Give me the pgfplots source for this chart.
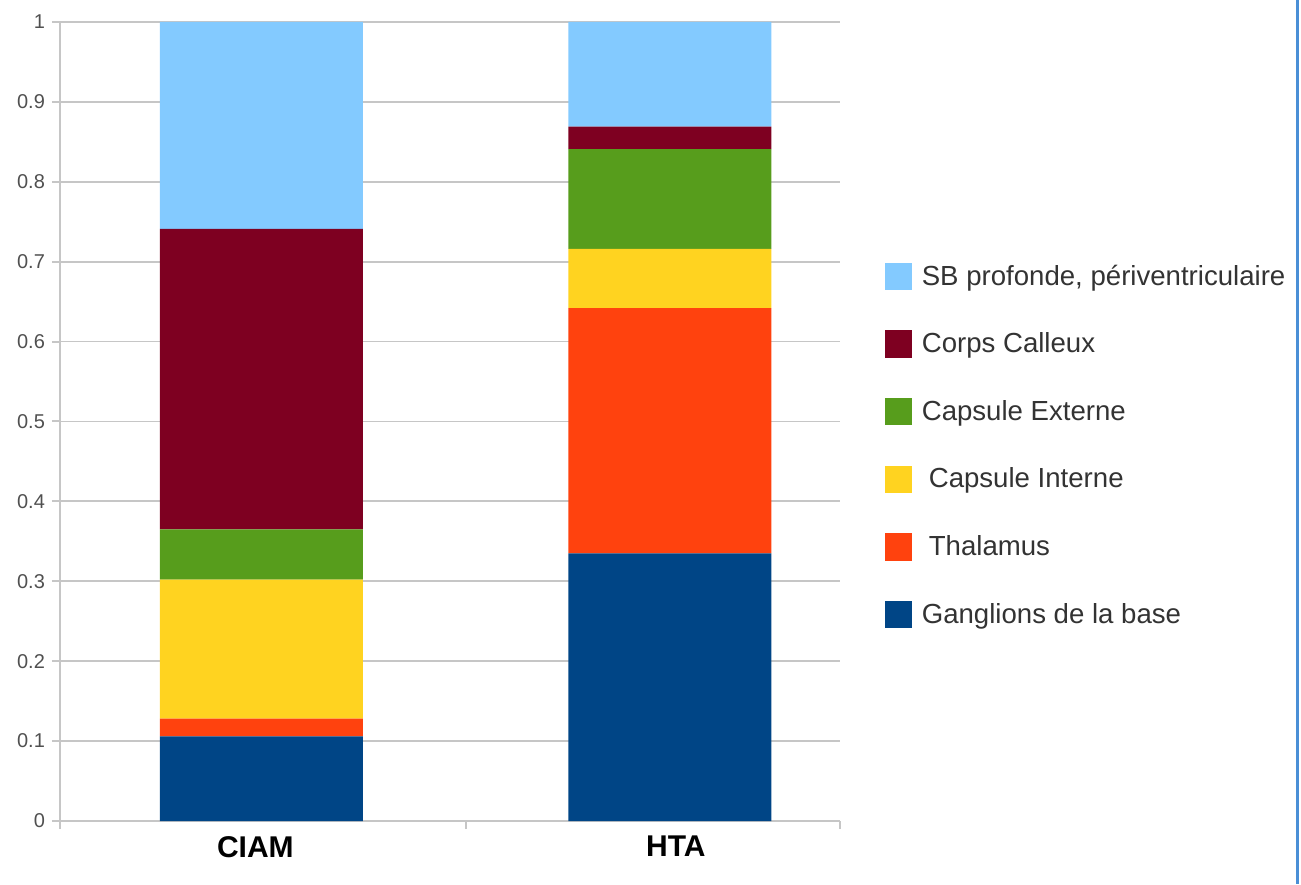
\documentclass[border=0pt]{standalone}
\usepackage{fontspec}
\setmainfont{Liberation Sans}
\usepackage{pgfplots}
\pgfplotsset{compat=1.18}

\definecolor{ganglions}{HTML}{004586}
\definecolor{thalamus}{HTML}{FF420E}
\definecolor{interne}{HTML}{FFD320}
\definecolor{externe}{HTML}{579D1C}
\definecolor{calleux}{HTML}{7E0021}
\definecolor{sbprof}{HTML}{83CAFF}
\definecolor{gridgray}{HTML}{C6C6C6}
\definecolor{ticktext}{HTML}{505050}
\definecolor{legtext}{HTML}{333333}
\definecolor{frameblue}{HTML}{4A8FD6}

% square swatch for the legend, vertically centred on the capitals
\pgfplotsset{
  sq legend/.style={
    legend image code/.code={
      \path[fill=none, draw=none] (0pt,-5.6pt) rectangle (18.5pt,11.65pt);
      \fill[##1,draw=none] (0pt,-5.6pt) rectangle (13.8pt,8.2pt);
    },
  },
}

\begin{document}
\begin{tikzpicture}
\useasboundingbox (0,0) rectangle (650.5pt,442pt);
\begin{axis}[
  at={(30pt,31.5pt)}, anchor=south west,
  x=204.25pt, y=399.5pt,
  xmin=-0.493, xmax=1.416, ymin=0, ymax=1,
  enlargelimits=false,
  ybar stacked, bar width=0.497,
  axis lines*=left,
  axis line style={gridgray, line width=1pt, -},
  ymajorgrids,
  major grid style={gridgray, line width=0.9pt},
  tick align=outside, major tick length=4pt,
  tick style={gridgray, line width=1pt},
  ytick={0,0.1,0.2,0.3,0.4,0.5,0.6,0.7,0.8,0.9,1},
  yticklabels={0,0.1,0.2,0.3,0.4,0.5,0.6,0.7,0.8,0.9,1},
  yticklabel style={font=\fontsize{10}{11}\selectfont, text=ticktext},
  xtick={-0.493,0.5,1.416},
  xticklabels={},
  extra x ticks={0,1},
  extra x tick labels={CIAM\hspace*{6pt},\hspace*{6pt}HTA},
  extra x tick style={major tick length=0pt, grid=none,
    xticklabel style={font=\fontsize{15}{18}\selectfont\bfseries, text=black, yshift=-4pt}},
  /pgf/number format/assume math mode=true,
  reverse legend,
  legend style={
    at={(1.0577,0.4705)}, anchor=west,
    draw=none, fill=none, inner sep=0pt, outer sep=0pt,
    row sep=13.55pt,
    font=\fontsize{13.8}{16}\selectfont, text=legtext,
    nodes={inner sep=0pt, outer sep=0pt, text height=11.65pt, text depth=5.6pt},
  },
  legend cell align=left,
]
% stacked shares per region, bottom to top
\addplot[fill=ganglions, draw=none, sq legend] coordinates {(0,0.106) (1,0.335)};
\addlegendentry{Ganglions de la base}
\addplot[fill=thalamus, draw=none, sq legend] coordinates {(0,0.022) (1,0.307)};
\addlegendentry{\hspace{3.5pt}Thalamus}
\addplot[fill=interne, draw=none, sq legend] coordinates {(0,0.174) (1,0.074)};
\addlegendentry{\hspace{3.5pt}Capsule Interne}
\addplot[fill=externe, draw=none, sq legend] coordinates {(0,0.063) (1,0.125)};
\addlegendentry{Capsule Externe}
\addplot[fill=calleux, draw=none, sq legend] coordinates {(0,0.376) (1,0.028)};
\addlegendentry{Corps Calleux}
\addplot[fill=sbprof, draw=none, sq legend] coordinates {(0,0.259) (1,0.131)};
\addlegendentry{SB profonde, périventriculaire}
\end{axis}
% page frame on the right edge
\fill[frameblue] (648pt,0pt) rectangle (649.6pt,442pt);
\end{tikzpicture}
\end{document}
